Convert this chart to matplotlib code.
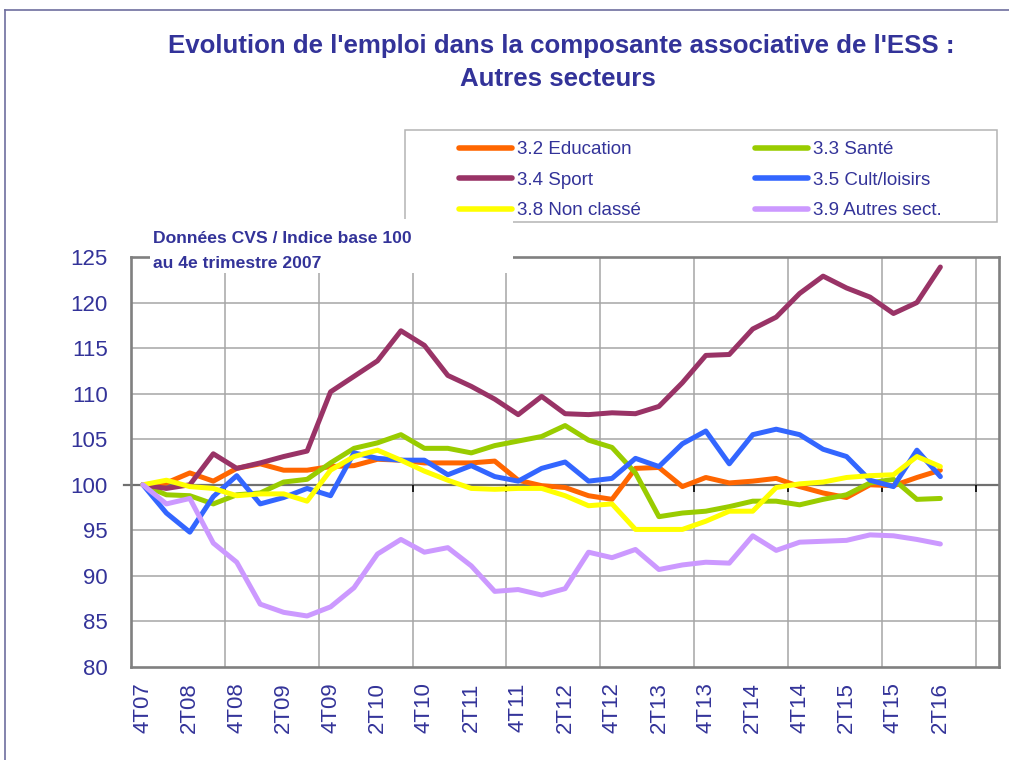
import matplotlib
matplotlib.use('Agg')
import matplotlib.pyplot as plt
from matplotlib import font_manager
from matplotlib.lines import Line2D
from matplotlib.patches import Rectangle

# quarters 4T07 .. 2T16 (+2 empty categories at the end of the axis)
quarters = ['4T07', '1T08', '2T08', '3T08', '4T08', '1T09', '2T09', '3T09', '4T09',
            '1T10', '2T10', '3T10', '4T10', '1T11', '2T11', '3T11', '4T11',
            '1T12', '2T12', '3T12', '4T12', '1T13', '2T13', '3T13', '4T13',
            '1T14', '2T14', '3T14', '4T14', '1T15', '2T15', '3T15', '4T15',
            '1T16', '2T16']

education = [100, 100.2, 101.3, 100.4, 101.8, 102.3, 101.6, 101.6, 102.0, 102.1,
             102.8, 102.7, 102.4, 102.4, 102.4, 102.6, 100.5, 99.9, 99.7, 98.8,
             98.4, 101.8, 101.9, 99.8, 100.8, 100.2, 100.4, 100.7, 99.8, 99.1,
             98.6, 100.0, 99.9, 100.8, 101.6]
sante = [100, 98.9, 98.8, 97.9, 98.9, 99.1, 100.3, 100.6, 102.4, 104.0,
         104.6, 105.5, 104.0, 104.0, 103.5, 104.3, 104.8, 105.3, 106.5, 104.9,
         104.1, 101.3, 96.5, 96.9, 97.1, 97.6, 98.2, 98.2, 97.8, 98.4,
         98.9, 100.2, 100.6, 98.4, 98.5]
sport = [100, 99.6, 100.0, 103.4, 101.8, 102.4, 103.1, 103.7, 110.2, 111.9,
         113.6, 116.9, 115.3, 112.0, 110.8, 109.4, 107.7, 109.7, 107.8, 107.7,
         107.9, 107.8, 108.6, 111.2, 114.2, 114.3, 117.1, 118.4, 121.0, 122.9,
         121.6, 120.6, 118.8, 120.0, 123.9]
cult = [100, 96.9, 94.8, 98.7, 101.0, 97.9, 98.6, 99.6, 98.8, 103.5,
        102.9, 102.7, 102.7, 101.1, 102.1, 100.9, 100.4, 101.8, 102.5, 100.4,
        100.7, 102.9, 102.0, 104.5, 105.9, 102.3, 105.5, 106.1, 105.5, 103.9,
        103.1, 100.5, 99.8, 103.8, 100.9]
non_classe = [100, 100.5, 99.8, 99.6, 98.8, 99.0, 99.0, 98.2, 101.6, 103.1,
              103.8, 102.7, 101.5, 100.5, 99.6, 99.5, 99.6, 99.6, 98.8, 97.7,
              97.9, 95.1, 95.1, 95.1, 96.0, 97.1, 97.1, 99.7, 100.1, 100.3,
              100.8, 101.0, 101.1, 103.1, 102.0]
autres = [100, 97.9, 98.5, 93.6, 91.5, 86.9, 86.0, 85.6, 86.6, 88.7,
          92.4, 94.0, 92.6, 93.1, 91.1, 88.3, 88.5, 87.9, 88.6, 92.6,
          92.0, 92.9, 90.7, 91.2, 91.5, 91.4, 94.4, 92.8, 93.7, 93.8,
          93.9, 94.5, 94.4, 94.0, 93.5]

labels = ['3.2 Education', '3.3 Santé', '3.4 Sport', '3.5 Cult/loisirs',
          '3.8 Non classé', '3.9 Autres sect.']
colors = ['#FF6600', '#99CC00', '#993366', '#3366FF', '#FFFF00', '#CC99FF']
series = [education, sante, sport, cult, non_classe, autres]
n_cat = 37

names = {f.name for f in font_manager.fontManager.ttflist}
if 'Liberation Sans Narrow' in names:
    FONT = 'Liberation Sans Narrow'
    fs_tick, fs_leg, fs_title, fs_note = 18, 16, 20.5, 14.5
else:
    FONT = 'Liberation Sans'
    fs_tick, fs_leg, fs_title, fs_note = 16, 13.5, 18.6, 12.6
plt.rcParams['font.family'] = [FONT, 'DejaVu Sans']
NAVY = '#333399'

W, H = 1009, 760
fig = plt.figure(figsize=(W / 100, H / 100), dpi=100)

def fx(px):
    return px / W

def fy(py):
    return 1 - py / H

ax = fig.add_axes([fx(131.2), fy(667), fx(999) - fx(131.2), fy(257) - fy(667)])

x = list(range(len(quarters)))
for vals, c in zip(series, colors):
    ax.plot(x, vals, color=c, lw=3.6, solid_joinstyle='round', solid_capstyle='round', zorder=3)

ax.set_xlim(-0.5, n_cat - 0.5)
ax.set_ylim(80, 125)
ax.set_yticks(range(80, 126, 5))
ax.set_xticks(x[::2])
ax.set_xticklabels(quarters[::2], rotation=90)
ax.tick_params(axis='x', length=0, pad=11, labelsize=fs_tick, labelcolor=NAVY)
ax.tick_params(axis='y', length=0, pad=17, labelsize=fs_tick, labelcolor=NAVY)

# grid
grid_x = [-0.5 + 4 * k for k in range(1, 10)]
for gx in grid_x:
    ax.axvline(gx, color='#A6A6A6', lw=1.1, zorder=1)
for gy in range(85, 125, 5):
    ax.axhline(gy, color='#A6A6A6', lw=1.1, zorder=1)
ax.axhline(100, color='#707070', lw=1.6, zorder=2)
ax.vlines(grid_x, 99.25, 100, color='black', lw=1.2, zorder=2)
ax.plot([-0.8, -0.5], [100, 100], color='#707070', lw=1.6, clip_on=False)

for s in ax.spines.values():
    s.set_color('#808080')
    s.set_linewidth(1.9)

# outer frame
fig.add_artist(Line2D([fx(5), 1], [fy(10), fy(10)], color='#6E6E9E', lw=1.2))
fig.add_artist(Line2D([fx(5), fx(5)], [fy(10), 0], color='#6E6E9E', lw=1.2))

# title
fig.text(fx(561), fy(46), "Evolution de l'emploi dans la composante associative de l'ESS :",
         ha='center', va='center', fontsize=fs_title, fontweight='bold', color=NAVY)
fig.text(fx(558), fy(79), 'Autres secteurs', ha='center', va='center',
         fontsize=fs_title, fontweight='bold', color=NAVY)

# legend box
fig.add_artist(Rectangle((fx(405), fy(222)), fx(997) - fx(405), fy(130) - fy(222),
                         facecolor='white', edgecolor='#B4B4B4', lw=1.1, zorder=4))
handles = [Line2D([], [], color=c, lw=4, solid_capstyle='round') for c in colors]
for col, x0 in enumerate([459, 755]):
    leg = fig.legend(handles[col::2], labels[col::2], loc='upper left',
                     bbox_to_anchor=(fx(x0), fy(141)), frameon=False, borderpad=0,
                     borderaxespad=0, fontsize=fs_leg, handlelength=53 / (fs_leg * 100 / 72),
                     handletextpad=0.25, labelspacing=0.72, labelcolor=NAVY)
    leg.set_zorder(5)

# note box covering the top of the plot
fig.add_artist(Rectangle((fx(150), fy(273)), fx(513) - fx(150), fy(219) - fy(273),
                         facecolor='white', edgecolor='none', zorder=6))
fig.text(fx(153), fy(239), 'Données CVS / Indice base 100', ha='left', va='center',
         fontsize=fs_note, fontweight='bold', color=NAVY, zorder=7)
fig.text(fx(153), fy(264), 'au 4e trimestre 2007', ha='left', va='center',
         fontsize=fs_note, fontweight='bold', color=NAVY, zorder=7)

fig.savefig('out.png', dpi=100)
